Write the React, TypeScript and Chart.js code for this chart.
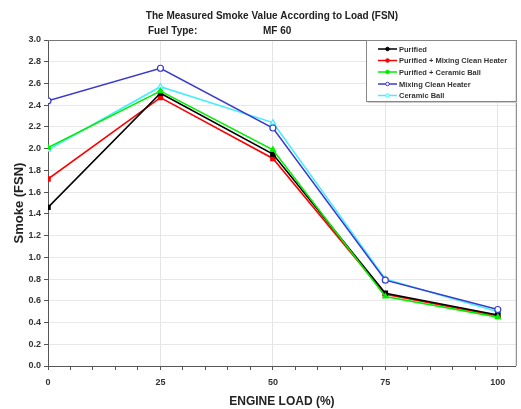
import React, { useEffect, useRef } from "react";
import { Chart, registerables } from "chart.js";

Chart.register(...registerables);

const loads = [0, 25, 50, 75, 100];
const purified = [1.46, 2.51, 1.95, 0.67, 0.47];
const purifiedMixing = [1.72, 2.47, 1.91, 0.66, 0.46];
const purifiedCeramic = [2.01, 2.53, 1.99, 0.64, 0.45];
const mixingHeater = [2.44, 2.74, 2.19, 0.79, 0.52];
const ceramicBall = [1.99, 2.57, 2.24, 0.8, 0.5];

const seriesNames = [
  "Purified",
  "Purified + Mixing Clean Heater",
  "Purified + Ceramic Ball",
  "Mixing Clean Heater",
  "Ceramic Ball",
];
const seriesColors = ["#000000", "#ff0000", "#00ee00", "#3a3ad0", "#44eeff"];
const seriesPoints = ["rect", "rect", "triangle", "circle", "triangle"];
const seriesFill = ["#000000", "#ff0000", "#00ee00", "#ffffff", "#ffffff"];
const seriesValues = [purified, purifiedMixing, purifiedCeramic, mixingHeater, ceramicBall];

const titleLine1 = "The Measured Smoke Value According to Load (FSN)";
const titleLabel = "Fuel Type:";
const titleValue = "MF 60";

const FONT = "'Liberation Sans', Arial, sans-serif";

const decorPlugin = {
  id: "decor",
  afterDraw(chart: any) {
    const { ctx, chartArea } = chart;
    ctx.save();
    // frame
    ctx.strokeStyle = "#777";
    ctx.lineWidth = 1;
    ctx.beginPath();
    ctx.moveTo(chartArea.left, chartArea.top + 0.5);
    ctx.lineTo(chartArea.right + 0.5, chartArea.top + 0.5);
    ctx.lineTo(chartArea.right + 0.5, chartArea.bottom);
    ctx.stroke();
    // titles
    ctx.fillStyle = "#222";
    ctx.font = `bold 10px ${FONT}`;
    ctx.textBaseline = "middle";
    ctx.textAlign = "center";
    ctx.fillText(titleLine1, 272, 16);
    ctx.textAlign = "left";
    ctx.fillText(titleLabel, 148, 31);
    ctx.fillText(titleValue, 263, 31);
    // legend
    const bx = 366, by = 40, bw = chartArea.right - 366, bh = 61;
    ctx.fillStyle = "#ffffff";
    ctx.fillRect(bx, by, bw, bh);
    ctx.strokeStyle = "#888";
    ctx.strokeRect(bx + 0.5, by + 0.5, bw, bh);
    ctx.strokeStyle = "#ccc";
    ctx.beginPath();
    ctx.moveTo(bx + 1.5, by + bh + 1.5);
    ctx.lineTo(bx + bw + 1.5, by + bh + 1.5);
    ctx.stroke();
    const rows = [49, 60.5, 72, 84, 95.5];
    ctx.font = `bold 7.5px ${FONT}`;
    seriesNames.forEach((name, i) => {
      const y = rows[i];
      ctx.strokeStyle = seriesColors[i];
      ctx.lineWidth = 1.5;
      ctx.beginPath();
      ctx.moveTo(378, y);
      ctx.lineTo(397, y);
      ctx.stroke();
      ctx.fillStyle = seriesFill[i];
      ctx.beginPath();
      ctx.arc(387.5, y, 1.8, 0, Math.PI * 2);
      ctx.fill();
      ctx.lineWidth = 1;
      ctx.stroke();
      ctx.fillStyle = "#333";
      ctx.textAlign = "left";
      ctx.fillText(name, 399, y + 0.5);
    });
    ctx.restore();
  },
};

export default function App() {
  const ref = useRef<HTMLCanvasElement>(null);
  useEffect(() => {
    document.body.style.margin = "0";
    const chart = new Chart(ref.current!, {
      type: "line",
      data: {
        datasets: seriesNames.map((name, i) => ({
          label: name,
          data: loads.map((x, j) => ({ x, y: seriesValues[i][j] })),
          borderColor: seriesColors[i],
          backgroundColor: seriesFill[i],
          pointBorderColor: seriesColors[i],
          pointBackgroundColor: seriesFill[i],
          pointStyle: seriesPoints[i] as any,
          pointRadius: 3,
          pointBorderWidth: 1.2,
          borderWidth: 1.6,
          tension: 0,
          order: [3, 4, 1, 2, 5][i],
        })),
      },
      options: {
        animation: false,
        responsive: false,
        maintainAspectRatio: false,
        layout: { padding: { top: 40, right: 5, left: 0, bottom: 0 } },
        plugins: { legend: { display: false }, tooltip: { enabled: false }, title: { display: false } },
        scales: {
          x: {
            type: "linear",
            min: 0,
            max: 104,
            afterFit(scale: any) {
              scale.height = 43;
            },
            afterBuildTicks(scale: any) {
              const t = [];
              for (let v = 0; v <= 100; v += 5) t.push({ value: v });
              scale.ticks = t;
            },
            ticks: {
              autoSkip: false,
              maxRotation: 0,
              padding: 7,
              color: "#333",
              font: { family: FONT, size: 9, weight: "bold" },
              callback: (v: any) => (Number(v) % 25 === 0 ? String(v) : ""),
            },
            grid: {
              color: (c: any) => (c.tick && c.tick.value % 25 === 0 && c.tick.value !== 0 ? "#e4e4e4" : "rgba(0,0,0,0)"),
              tickColor: "#555",
              tickLength: 4,
            },
            border: { color: "#555", width: 1 },
            title: {
              display: true,
              text: "ENGINE LOAD (%)",
              color: "#222",
              font: { family: FONT, size: 12, weight: "bold" },
              padding: { top: 2, bottom: 0 },
            },
          },
          y: {
            min: 0,
            max: 3,
            afterFit(scale: any) {
              scale.width = 48;
            },
            ticks: {
              stepSize: 0.2,
              padding: 3,
              color: "#333",
              font: { family: FONT, size: 9, weight: "bold" },
              callback: (v: any) => Number(v).toFixed(1),
            },
            grid: {
              color: (c: any) => (c.tick && c.tick.value !== 0 && c.tick.value !== 3 ? "#e8e8e8" : "rgba(0,0,0,0)"),
              tickColor: "#555",
              tickLength: 4,
            },
            border: { color: "#555", width: 1 },
            title: {
              display: true,
              text: "Smoke (FSN)",
              color: "#222",
              font: { family: FONT, size: 13, weight: "bold" },
              padding: { top: 12, bottom: 0 },
            },
          },
        },
      },
      plugins: [decorPlugin],
    } as any);
    return () => chart.destroy();
  }, []);
  return (
    <div style={{ width: 521, height: 409 }}>
      <canvas ref={ref} width={521} height={409} style={{ display: "block" }} />
    </div>
  );
}
